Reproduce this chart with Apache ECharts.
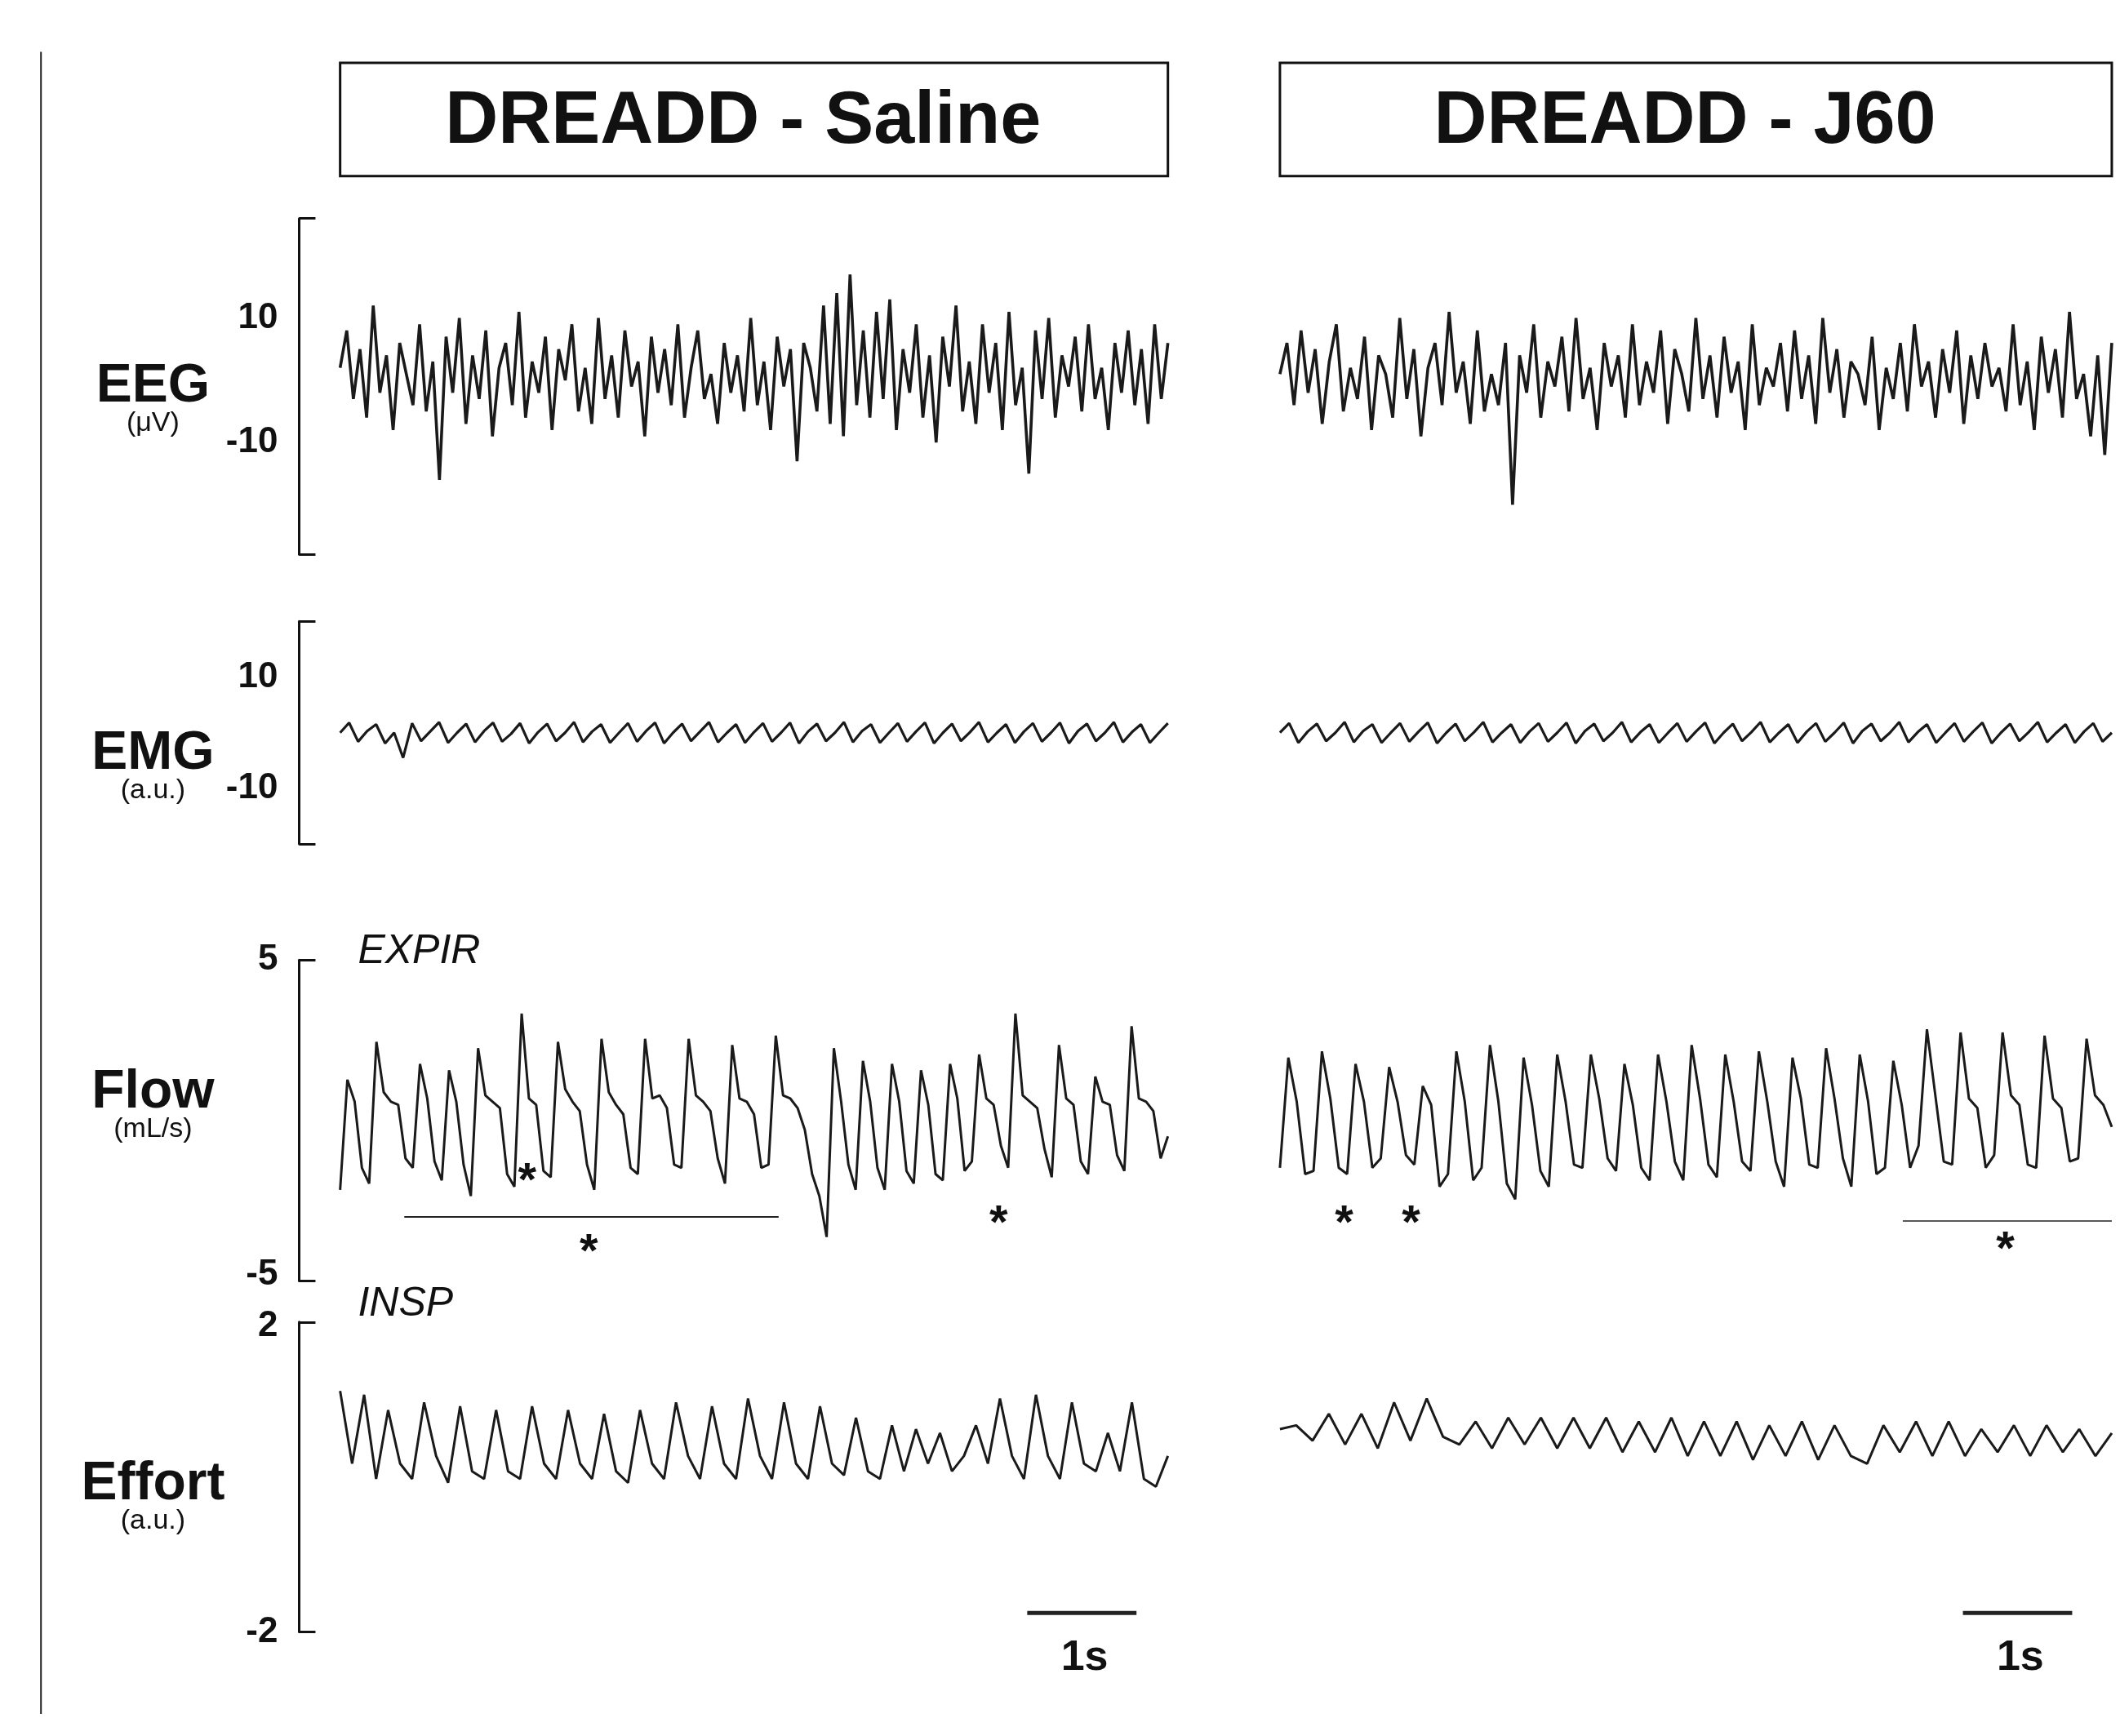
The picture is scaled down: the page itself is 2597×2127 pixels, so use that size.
<!DOCTYPE html>
<html><head><meta charset="utf-8">
<script src="https://cdn.jsdelivr.net/npm/echarts@6/dist/echarts.min.js"></script>
<style>html,body{margin:0;padding:0;background:#fff}#c{width:2597px;height:2127px}</style>
</head><body><div id="c"></div>
<script>
// reference measured at ~1552px wide, scale everything up
var S = 2597 / 1552;
var DUR = 7.5; // seconds shown per column

var titles = ['DREADD - Saline', 'DREADD - J60'];
var rowNames = ['EEG', 'EMG', 'Flow', 'Effort'];
var rowUnits = ['(\u03bcV)', '(a.u.)', '(mL/s)', '(a.u.)'];

var eegSaline = [2,8,-3,5,-6,12,-2,4,-8,6,1,-4,9,-5,3,-16,7,-2,10,-7,4,-3,8,-9,2,6,-4,11,-6,3,-2,7,-8,5,0,9,-5,2,-7,10,-3,4,-6,8,-1,3,-9,7,-2,5,-4,9,-6,2,8,-3,1,-7,6,-2,4,-5,10,-4,3,-8,7,-1,5,-13,6,2,-5,12,-7,14,-9,17,-4,8,-6,11,-3,13,-8,5,-2,9,-6,4,-10,7,-1,12,-5,3,-7,9,-2,6,-8,11,-4,2,-15,8,-3,10,-6,4,-1,7,-5,9,-3,2,-8,6,-2,8,-4,5,-7,9,-3,6];
var eegJ60 = [1,6,-4,8,-2,5,-7,3,9,-5,2,-3,7,-8,4,1,-6,10,-3,5,-9,2,6,-4,11,-2,3,-7,8,-5,1,-4,6,-20,4,-2,9,-6,3,-1,7,-5,10,-3,2,-8,6,-1,4,-6,9,-4,3,-2,8,-7,5,1,-5,10,-3,4,-6,7,-2,3,-8,9,-4,2,-1,6,-5,8,-3,4,-7,10,-2,5,-6,3,1,-4,7,-8,2,-3,6,-5,9,-1,3,-6,5,-2,8,-7,4,-3,6,-1,2,-5,9,-4,3,-8,7,-2,5,-6,11,-3,1,-9,4,-12,6];
var emgSaline = [0,1.8,-1.6,0.3,1.5,-1.9,0,-4.5,1.7,-1.5,0.2,1.9,-1.8,0,1.6,-1.7,0.3,1.8,-1.6,-0.2,1.7,-1.9,0.1,1.6,-1.5,0,1.9,-1.7,0.2,1.5,-1.8,0,1.7,-1.6,0.3,1.8,-1.9,0,1.6,-1.5,0.2,1.9,-1.7,0,1.5,-1.8,0.1,1.7,-1.6,0,1.8,-1.9,0.2,1.6,-1.5,0,1.9,-1.7,0.3,1.5,-1.8,0,1.7,-1.6,0.2,1.8,-1.9,0,1.6,-1.5,0.1,1.9,-1.7,0,1.5,-1.8,0.2,1.7,-1.6,0,1.8,-1.9,0.3,1.6,-1.5,0,1.9,-1.7,0.1,1.5,-1.8,0,1.7];
var emgJ60 = [0,1.7,-1.8,0.2,1.6,-1.5,0,1.9,-1.7,0.3,1.5,-1.8,0,1.7,-1.6,0.2,1.8,-1.9,0,1.6,-1.5,0.1,1.9,-1.7,0,1.5,-1.8,0.2,1.7,-1.6,0,1.8,-1.9,0.3,1.6,-1.5,0,1.9,-1.7,0.1,1.5,-1.8,0,1.7,-1.6,0.2,1.8,-1.9,0,1.6,-1.5,0.1,1.9,-1.7,0,1.5,-1.8,0.2,1.7,-1.6,0,1.8,-1.9,0.3,1.6,-1.5,0,1.9,-1.7,0.1,1.5,-1.8,0,1.7,-1.6,0.2,1.8,-1.9,0,1.6,-1.5,0.1,1.9,-1.7,0,1.5,-1.8,0.2,1.7,-1.6,0];
var flowSaline = [-2.3,1.2,0.5,-1.6,-2.1,2.4,0.8,0.5,0.4,-1.3,-1.6,1.7,0.6,-1.4,-2.0,1.5,0.5,-1.5,-2.5,2.2,0.7,0.5,0.3,-1.8,-2.2,3.3,0.6,0.4,-1.7,-1.9,2.4,0.9,0.5,0.2,-1.5,-2.3,2.5,0.8,0.4,0.1,-1.6,-1.8,2.5,0.6,0.7,0.3,-1.5,-1.6,2.5,0.7,0.5,0.2,-1.3,-2.1,2.3,0.6,0.5,0.1,-1.6,-1.5,2.6,0.7,0.6,0.3,-0.4,-1.8,-2.5,-3.8,2.2,0.5,-1.5,-2.3,1.8,0.5,-1.6,-2.3,1.7,0.5,-1.7,-2.1,1.5,0.4,-1.8,-2.0,1.7,0.6,-1.7,-1.4,2.0,0.6,0.4,-0.9,-1.6,3.3,0.7,0.5,0.3,-1.0,-1.9,2.3,0.6,0.4,-1.4,-1.8,1.3,0.5,0.4,-1.2,-1.7,2.9,0.6,0.5,0.2,-1.3,-0.6];
var flowJ60 = [-1.6,1.9,0.5,-1.8,-1.7,2.1,0.6,-1.6,-1.8,1.7,0.5,-1.6,-1.3,1.6,0.5,-1.2,-1.5,1.0,0.4,-2.2,-1.8,2.1,0.5,-2.0,-1.6,2.3,0.5,-2.1,-2.6,1.9,0.4,-1.7,-2.2,2.0,0.5,-1.5,-1.6,2.0,0.6,-1.3,-1.7,1.7,0.4,-1.6,-2.0,2.0,0.5,-1.4,-2.0,2.3,0.6,-1.5,-1.9,2.0,0.5,-1.4,-1.7,2.1,0.5,-1.4,-2.2,1.9,0.6,-1.5,-1.6,2.2,0.6,-1.3,-2.2,2.0,0.5,-1.8,-1.6,1.8,0.4,-1.6,-0.9,2.8,0.7,-1.4,-1.5,2.7,0.6,0.3,-1.6,-1.2,2.7,0.7,0.4,-1.5,-1.6,2.6,0.6,0.3,-1.4,-1.3,2.5,0.7,0.4,-0.3];
var effortSaline = [1.15,0.2,1.1,0.0,0.9,0.2,0.0,1.0,0.3,-0.05,0.95,0.1,0.0,0.9,0.1,0.0,0.95,0.2,0.0,0.9,0.2,0.0,0.85,0.1,-0.05,0.9,0.2,0.0,1.0,0.3,0.0,0.95,0.2,0.0,1.05,0.3,0.0,1.0,0.2,0.0,0.95,0.2,0.05,0.8,0.1,0.0,0.7,0.1,0.65,0.2,0.6,0.1,0.3,0.7,0.2,1.05,0.3,0.0,1.1,0.3,0.0,1.0,0.2,0.1,0.6,0.1,1.0,0.0,-0.1,0.3];
var effortJ60 = [0.65,0.7,0.5,0.85,0.45,0.85,0.4,1.0,0.5,1.05,0.55,0.45,0.75,0.4,0.8,0.45,0.8,0.4,0.8,0.4,0.8,0.35,0.75,0.35,0.8,0.3,0.75,0.3,0.75,0.25,0.7,0.3,0.75,0.25,0.7,0.3,0.2,0.7,0.35,0.75,0.3,0.75,0.3,0.65,0.35,0.7,0.3,0.7,0.35,0.65,0.3,0.6];

var rowRanges = [[-28, 26], [-20, 20], [-5.2, 5], [-2, 2.05]];
var rowTicks = [[10, -10], [10, -10], [5, -5], [2, -2]];
// display-space boxes (reference coords): [top, bottom]
var rowBoxes = [[160, 406], [455, 618], [703, 938], [968, 1195]];
var colBoxes = [[249, 855], [937, 1546]];
var AXIS_X = 219; // bracket sits left of the left traces
var rowData = [[eegSaline, eegJ60], [emgSaline, emgJ60], [flowSaline, flowJ60], [effortSaline, effortJ60]];
var rowWidth = [3.6, 3.2, 3, 3];

function toXY(arr) {
  return arr.map(function (v, i) { return [i * DUR / (arr.length - 1), v]; });
}

var grid = [], xAxis = [], yAxis = [], series = [];
rowBoxes.forEach(function (rb, r) {
  colBoxes.forEach(function (cb, c) {
    var k = grid.length;
    var left = c === 0 ? AXIS_X : cb[0];
    var xmin = -DUR * (cb[0] - left) / (cb[1] - cb[0]);
    grid.push({ left: left * S, top: rb[0] * S, width: (cb[1] - left) * S, height: (rb[1] - rb[0]) * S });
    xAxis.push({ gridIndex: k, type: 'value', min: xmin, max: DUR, show: false });
    yAxis.push({
      gridIndex: k, type: 'value', min: rowRanges[r][0], max: rowRanges[r][1],
      show: c === 0, splitLine: { show: false },
      axisLine: { show: true, onZero: false, lineStyle: { color: '#111', width: 3 } },
      axisTick: { show: true, inside: true, length: 20, customValues: rowRanges[r], lineStyle: { color: '#111', width: 3 } },
      axisLabel: { customValues: rowTicks[r], fontFamily: 'Liberation Sans', fontWeight: 'bold', fontSize: 44, color: '#111', margin: 26 }
    });
    series.push({
      type: 'line', xAxisIndex: k, yAxisIndex: k, data: toXY(rowData[r][c]),
      showSymbol: false, animation: false, lineStyle: { color: '#1a1a1a', width: rowWidth[r] }
    });
  });
});

function txt(x, y, s, size, opts) {
  return Object.assign({ type: 'text', x: x * S, y: y * S, style: Object.assign({ text: s, fontFamily: 'Liberation Sans', fontSize: size, fill: '#111', align: 'center', verticalAlign: 'middle' }, opts || {}) });
}
function line(x1, y1, x2, y2, w) {
  return { type: 'line', shape: { x1: x1 * S, y1: y1 * S, x2: x2 * S, y2: y2 * S }, style: { stroke: '#222', lineWidth: w } };
}
var rowLabelY = [283, 552, 800, 1087];
var g = [line(30, 38, 30, 1255, 2)];
titles.forEach(function (t, i) {
  var cb = colBoxes[i];
  g.push({ type: 'rect', shape: { x: cb[0] * S, y: 46 * S, width: (cb[1] - cb[0]) * S, height: 83 * S }, style: { fill: 'none', stroke: '#111', lineWidth: 3 } });
  g.push(txt((cb[0] + cb[1]) / 2 - 8, 90, t, 90, { fontWeight: 'bold' }));
});
rowNames.forEach(function (n, r) {
  g.push(txt(112, rowLabelY[r], n, 66, { fontWeight: 'bold' }));
  g.push(txt(112, rowLabelY[r] + 27, rowUnits[r], 34));
});
g.push(txt(262, 697, 'EXPIR', 50, { fontStyle: 'italic', align: 'left' }));
g.push(txt(262, 955, 'INSP', 50, { fontStyle: 'italic', align: 'left' }));
[[386, 866], [431, 918], [731, 897], [984, 897], [1033, 897], [1468, 916]].forEach(function (p) {
  g.push(txt(p[0], p[1], '*', 58, { fontWeight: 'bold' }));
});
g.push(line(296, 891, 570, 891, 2));
g.push(line(1393, 894, 1546, 894, 1.5));
[[752, 832], [1437, 1517]].forEach(function (b) {
  g.push(line(b[0], 1181, b[1], 1181, 5));
  g.push(txt((b[0] + b[1]) / 2 + 2, 1214, '1s', 52, { fontWeight: 'bold' }));
});

var chart = echarts.init(document.getElementById('c'), null, { renderer: 'canvas' });
chart.setOption({ backgroundColor: '#fff', animation: false, grid: grid, xAxis: xAxis, yAxis: yAxis, series: series, graphic: g });
</script></body></html>
